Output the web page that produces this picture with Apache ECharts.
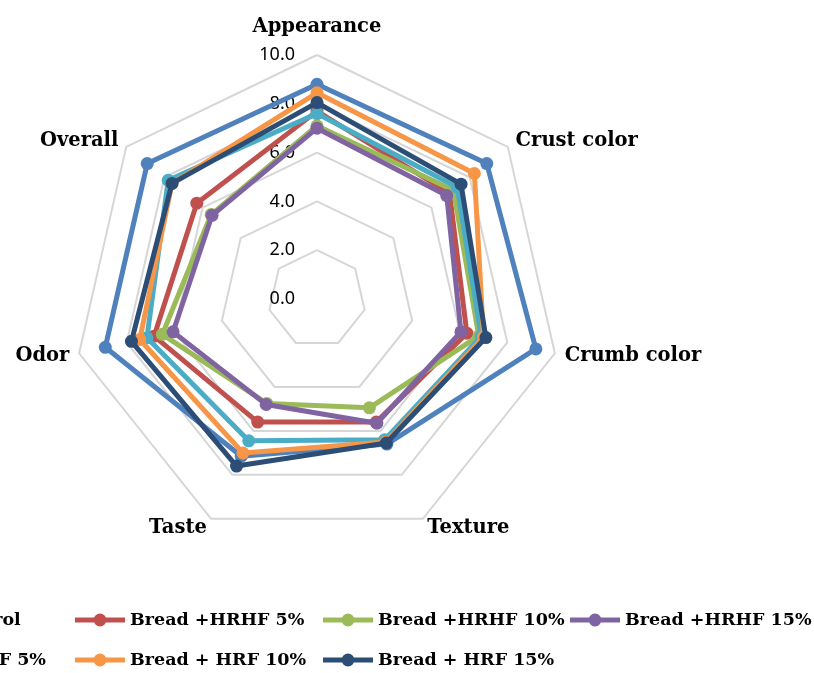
<!DOCTYPE html>
<html>
<head>
    <meta charset="utf-8">
    <title>radar</title>
    <style>
        html,body,#myCanvas{
            height: 100%;
            width: 100%;
            padding: 0;
            margin: 0;
            background: #fff;
        }
    </style>
</head>
<body>
    <div id="myCanvas"></div>
    <script src="https://cdn.jsdelivr.net/npm/echarts@6/dist/echarts.min.js"></script>
    <script>
        // categories, clockwise from the top (as in the picture)
        const categories = ['Appearance', 'Crust color', 'Crumb color', 'Texture', 'Taste', 'Odor', 'Overall']
        const tickLabels = ['0.0', '2.0', '4.0', '6.0', '8.0', '10.0']

        const names = ['Bread Control', 'Bread +HRHF 5%', 'Bread +HRHF 10%', 'Bread +HRHF 15%',
                       'Bread + HRF 5%', 'Bread + HRF 10%', 'Bread + HRF 15%']
        const colors = ['#4F81BD', '#C0504D', '#9BBB59', '#8064A2', '#4BACC6', '#F79646', '#2C4D75']

        const control  = [8.8, 8.9, 9.2, 6.6, 7.15, 8.9, 8.9]
        const hrhf5    = [7.7, 6.95, 6.3, 5.6, 5.6, 6.85, 6.3]
        const hrhf10   = [7.1, 7.15, 6.8, 4.95, 4.75, 6.5, 5.55]
        const hrhf15   = [7.0, 6.8, 6.05, 5.65, 4.8, 6.05, 5.5]
        const hrf5     = [7.6, 7.35, 6.9, 6.4, 6.45, 7.15, 7.8]
        const hrf10    = [8.45, 8.25, 7.0, 6.5, 7.0, 7.45, 7.6]
        const hrf15    = [8.05, 7.55, 7.1, 6.55, 7.6, 7.8, 7.6]
        const seriesValues = [control, hrhf5, hrhf10, hrhf15, hrf5, hrf10, hrf15]

        // echarts lays indicators out counter-clockwise, so flip the order after the first one
        const order = [0, 6, 5, 4, 3, 2, 1]
        const reorder = arr => order.map(i => arr[i])

        const serifFont = '"DejaVu Serif", "Liberation Serif", serif'

        let indicators = reorder(categories).map((c, i) => {
            let ind = {name: c, min: 0, max: 10}
            if (i === 0) {
                ind.axisLabel = {show: true}
                ind.nameTextStyle = {padding: [0, 0, 8, 0]}
            }
            return ind
        })

        // line + marker legend symbol (50 x 14)
        const legendIcon = 'path://M0,4.5 H50 V9.5 H0 Z M18.5,7 A6.5,6.5 0 1,1 31.5,7 A6.5,6.5 0 1,1 18.5,7 Z'

        const legendCols = [[names[0], names[4]], [names[1], names[5]], [names[2], names[6]], [names[3]]]
        const legendLeft = [-173, 75, 323, 570]

        let myChart = echarts.init(document.getElementById('myCanvas'))

        myChart.setOption({
            animation: false,
            radar: {
                center: [317, 299],
                radius: 244,
                shape: 'polygon',
                splitNumber: 5,
                nameGap: 10,
                indicator: indicators,
                axisName: {
                    color: '#000',
                    fontFamily: serifFont,
                    fontWeight: 'bold',
                    fontSize: 19.5
                },
                axisLine: {show: false},
                axisTick: {show: false},
                splitArea: {show: false},
                splitLine: {lineStyle: {color: '#D6D6D6', width: 2}},
                axisLabel: {
                    show: false,
                    color: '#000',
                    fontFamily: '"Noto Sans", "Open Sans", sans-serif',
                    fontSize: 18,
                    margin: 22,
                    formatter: function (v) { return tickLabels[Math.round(v / 2)] }
                }
            },
            legend: legendCols.map((col, i) => ({
                data: col,
                orient: 'vertical',
                left: legendLeft[i],
                top: 611,
                height: 120,
                padding: 0,
                itemGap: 22,
                itemWidth: 50,
                itemHeight: 14,
                icon: legendIcon,
                selectedMode: false,
                textStyle: {
                    color: '#000',
                    fontFamily: serifFont,
                    fontWeight: 'bold',
                    fontSize: 17.5
                }
            })),
            series: seriesValues.map((vals, i) => ({
                type: 'radar',
                name: names[i],
                symbol: 'circle',
                symbolSize: 13,
                z: 2 + i,
                itemStyle: {color: colors[i]},
                lineStyle: {color: colors[i], width: 5, join: 'round'},
                data: [{name: names[i], value: reorder(vals)}]
            }))
        })
    </script>
</body>
</html>
